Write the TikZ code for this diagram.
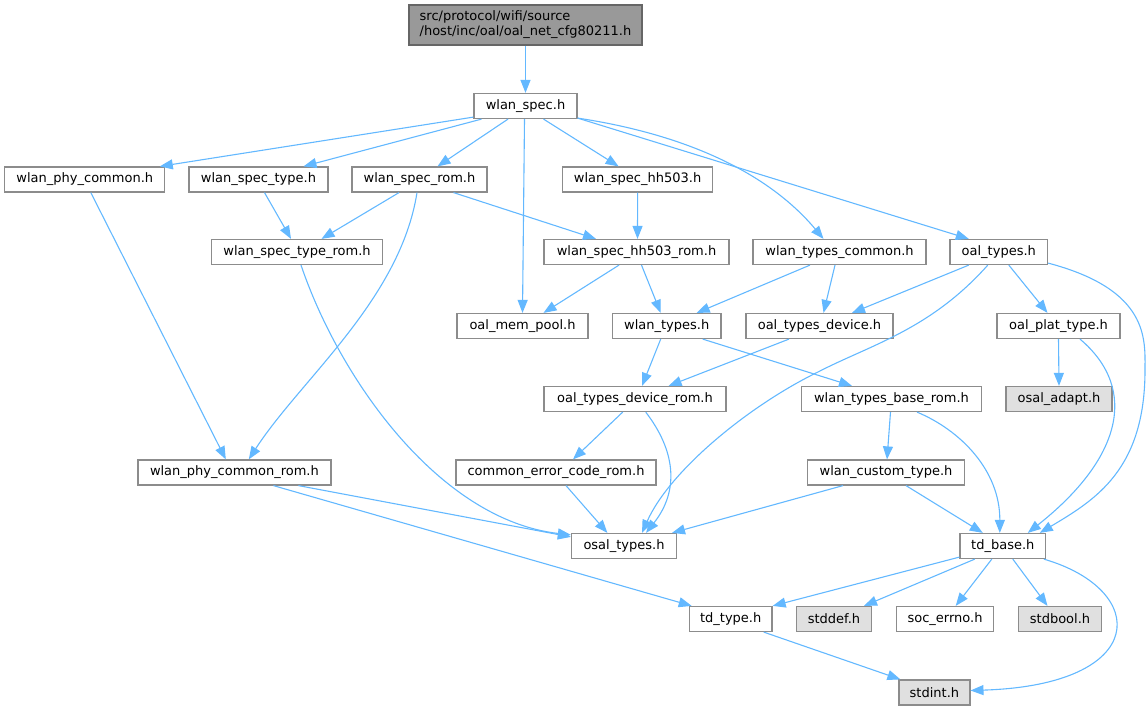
\documentclass[tikz,border=0pt]{standalone}
\usepackage{fontspec}
\setmainfont{DejaVu Sans}
\usetikzlibrary{arrows.meta}
\definecolor{ecol}{HTML}{63B8FF}
\definecolor{bord}{HTML}{8C8C8C}
\definecolor{rootfill}{HTML}{999999}
\definecolor{rootbord}{HTML}{666666}
\definecolor{gfill}{HTML}{E0E0E0}
\newcommand{\dfont}{\fontsize{13}{15}\selectfont}
\begin{document}
\begin{tikzpicture}[x=1pt,y=-1pt,
  box/.style={draw=bord, fill=white, line width=1.2pt, minimum height=25pt, inner sep=0pt, font=\dfont},
  gbox/.style={box, fill=gfill},
  rootbox/.style={box, fill=rootfill, draw=rootbord, minimum height=40pt, align=left},
  dep/.style={draw=ecol, line width=1.1pt, -{Triangle[length=13pt,width=10pt]}}]
\useasboundingbox (0,0) rectangle (1148,711);
% nodes
\node[rootbox, minimum width=233pt] (top) at (525.5,25) {src/protocol/wifi/source\\/host/inc/oal/oal\_net\_cfg80211.h};
\node[box, minimum width=103pt] (wspec) at (525.5,106) {wlan\_spec.h};
\node[box, minimum width=160pt] (wphy) at (84.8,179.5) {wlan\_phy\_common.h};
\node[box, minimum width=139pt] (wstype) at (258.5,179.5) {wlan\_spec\_type.h};
\node[box, minimum width=135pt] (wsrom) at (419.5,179.5) {wlan\_spec\_rom.h};
\node[box, minimum width=150pt] (whh) at (637.6,179.5) {wlan\_spec\_hh503.h};
\node[box, minimum width=171pt] (wstrom) at (297,252) {wlan\_spec\_type\_rom.h};
\node[box, minimum width=185pt] (whhrom) at (636.5,252) {wlan\_spec\_hh503\_rom.h};
\node[box, minimum width=173pt] (wtc) at (839.5,252) {wlan\_types\_common.h};
\node[box, minimum width=97.5pt] (oalt) at (998.8,252) {oal\_types.h};
\node[box, minimum width=131pt] (mempool) at (522.5,326) {oal\_mem\_pool.h};
\node[box, minimum width=108.6pt] (wtypes) at (666.7,326) {wlan\_types.h};
\node[box, minimum width=147pt] (otd) at (819.5,326) {oal\_types\_device.h};
\node[box, minimum width=123pt] (plat) at (1058.5,326) {oal\_plat\_type.h};
\node[box, minimum width=182pt] (otdrom) at (635,399) {oal\_types\_device\_rom.h};
\node[box, minimum width=179.5pt] (wtbrom) at (891.5,399) {wlan\_types\_base\_rom.h};
\node[gbox, minimum width=106pt] (adapt) at (1059,399) {osal\_adapt.h};
\node[box, minimum width=193pt] (wphyrom) at (234.4,472.5) {wlan\_phy\_common\_rom.h};
\node[box, minimum width=200pt] (cerr) at (556,472.5) {common\_error\_code\_rom.h};
\node[box, minimum width=156.5pt] (wcustom) at (886,472.5) {wlan\_custom\_type.h};
\node[box, minimum width=105pt] (osalt) at (624,546) {osal\_types.h};
\node[box, minimum width=85.6pt] (tdbase) at (1002.8,546) {td\_base.h};
\node[box, minimum width=82.7pt] (tdtype) at (730.7,619) {td\_type.h};
\node[gbox, minimum width=75pt] (stddef) at (834,619) {stddef.h};
\node[box, minimum width=97.7pt] (socerr) at (945,619) {soc\_errno.h};
\node[gbox, minimum width=83pt] (stdbool) at (1060,619) {stdbool.h};
\node[gbox, minimum width=71pt] (stdint) at (934.4,692.5) {stdint.h};
% edges
\draw[dep] (top.south) -- (wspec.north);
\draw[dep] ([yshift=2pt]wspec.south west) -- ([xshift=75pt]wphy.north);
\draw[dep] ([xshift=-44pt]wspec.south) -- ([xshift=45pt]wstype.north);
\draw[dep] ([xshift=-17.5pt]wspec.south) -- ([xshift=18pt]wsrom.north);
\draw[dep] ([xshift=-1pt]wspec.south) -- (mempool.north);
\draw[dep] ([xshift=18pt]wspec.south) -- ([xshift=-19pt]whh.north);
\draw[dep] ([yshift=1pt]wspec.south east) .. controls (690,135) and (770,175) .. ([xshift=-16pt]wtc.north);
\draw[dep] ([yshift=1pt]wspec.south east) -- ([xshift=-30pt]oalt.north);
\draw[dep] ([xshift=6pt]wphy.south) -- ([xshift=-8.6pt]wphyrom.north);
\draw[dep] ([xshift=6pt]wstype.south) -- ([xshift=-6pt]wstrom.north);
\draw[dep] ([xshift=-20.5pt]wsrom.south) -- ([xshift=24.5pt]wstrom.north);
\draw[dep] ([xshift=-2.5pt]wsrom.south) .. controls (400,300) and (300,380) .. ([xshift=14.4pt]wphyrom.north);
\draw[dep] ([xshift=34pt]wsrom.south) -- ([xshift=-40.5pt]whhrom.north);
\draw[dep] (whh.south) -- ([xshift=1pt]whhrom.north);
\draw[dep] ([xshift=4pt]wstrom.south) .. controls (340,380) and (440,520) .. ([yshift=-2pt]osalt.north west);
\draw[dep] ([xshift=-17.5pt]whhrom.south) -- ([xshift=21pt]mempool.north);
\draw[dep] ([xshift=5pt]whhrom.south) -- ([xshift=-6pt]wtypes.north);
\draw[dep] ([xshift=-29.5pt]wtc.south) -- ([xshift=30pt]wtypes.north);
\draw[dep] ([xshift=-4.5pt]wtc.south) -- ([xshift=4pt]otd.north);
\draw[dep] ([xshift=-30pt]oalt.south) -- ([xshift=32.5pt]otd.north);
\draw[dep] ([xshift=-11pt]oalt.south) .. controls (930,330) and (870,345) .. (818,372) .. controls (750,405) and (670,470) .. ([xshift=18pt]osalt.north);
\draw[dep] ([xshift=10pt]oalt.south) -- ([xshift=-11pt]plat.north);
\draw[dep] ([yshift=2pt]oalt.south east) .. controls (1150,290) and (1145,340) .. (1145,370) .. controls (1145,470) and (1095,500) .. ([xshift=37pt]tdbase.north);
\draw[dep] ([xshift=-6pt]wtypes.south) -- ([xshift=7pt]otdrom.north);
\draw[dep] ([xshift=36pt]wtypes.south) -- ([xshift=-39.5pt]wtbrom.north);
\draw[dep] ([xshift=-30.5pt]otd.south) -- ([xshift=33.6pt]otdrom.north);
\draw[dep] (plat.south) -- (adapt.north);
\draw[dep] ([xshift=21.5pt]plat.south) .. controls (1140,390) and (1120,460) .. ([xshift=25pt]tdbase.north);
\draw[dep] ([xshift=-12.3pt]otdrom.south) -- ([xshift=17pt]cerr.north);
\draw[dep] ([xshift=10.7pt]otdrom.south) .. controls (675,450) and (680,490) .. ([xshift=22pt]osalt.north);
\draw[dep] ([xshift=-1pt]wtbrom.south) -- ([xshift=1pt]wcustom.north);
\draw[dep] ([xshift=25.5pt]wtbrom.south) .. controls (960,430) and (1000,470) .. ([xshift=-3pt]tdbase.north);
\draw[dep] ([xshift=64pt]wphyrom.south) -- ([yshift=-4pt]osalt.north west);
\draw[dep] ([xshift=39pt]wphyrom.south) -- ([xshift=-39pt]tdtype.north);
\draw[dep] ([xshift=10pt]cerr.south) -- ([xshift=-16.6pt]osalt.north);
\draw[dep] ([xshift=-43pt]wcustom.south) -- ([xshift=48pt]osalt.north);
\draw[dep] ([xshift=20pt]wcustom.south) -- ([xshift=-20pt]tdbase.north);
\draw[dep] ([yshift=2pt]tdbase.south west) -- (tdtype.north east);
\draw[dep] ([xshift=-28pt]tdbase.south) -- ([xshift=30pt]stddef.north);
\draw[dep] ([xshift=-11pt]tdbase.south) -- ([xshift=10.7pt]socerr.north);
\draw[dep] ([xshift=10pt]tdbase.south) -- ([xshift=-12.5pt]stdbool.north);
\draw[dep] ([xshift=41pt]tdbase.south) .. controls (1150,590) and (1150,685) .. ([yshift=2pt]stdint.east);
\draw[dep] ([xshift=33pt]tdtype.south) -- ([xshift=-34pt]stdint.north);
\end{tikzpicture}
\end{document}
